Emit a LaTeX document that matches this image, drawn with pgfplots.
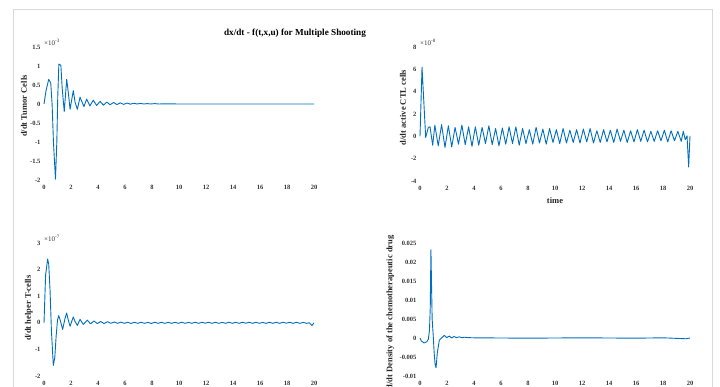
\documentclass[border=0pt]{standalone}
\usepackage{pgfplots}
\pgfplotsset{compat=1.18}
\usepackage{fontspec}
\setmainfont{Liberation Serif}
\definecolor{mblue}{RGB}{0,110,190}
\definecolor{framegray}{RGB}{217,217,217}
\pgfplotsset{
  myax/.style={
    scale only axis, width=270pt, height=133pt,
    xmin=0, xmax=20, xtick={0,2,...,20},
    axis line style={draw=none}, major tick length=0pt, tick style={draw=none},
    enlargelimits=false, clip=false,
    tick label style={font=\bfseries\fontsize{6.5}{7}\selectfont, text=black!80},
    /pgf/number format/assume math mode=true,
    xticklabel style={yshift=-1.5pt},
  },
  curve/.style={draw=mblue, line width=0.9pt, mark=none, line join=round},
  ylab/.style 2 args={every axis y label/.style={at={(axis description cs:#1,#2)}, rotate=90, anchor=center, font=\bfseries\fontsize{8.5}{9}\selectfont, text=black!85}},
}
\newcommand{\scalelab}[1]{\node[anchor=south west, inner sep=0pt, yshift=1pt, font=\fontsize{7}{8}\selectfont, text=black!80] at (rel axis cs:0,1) {×10\textsuperscript{#1}};}
\begin{document}
\begin{tikzpicture}[x=1pt,y=1pt]
\useasboundingbox (0pt,0pt) rectangle (720pt,387pt);
\draw[framegray, line width=0.8pt] (13pt,-20pt) -- (13pt,378pt) -- (712pt,378pt) -- (712pt,-20pt);
\node[font=\bfseries\fontsize{9.2}{10}\selectfont] at (295pt,354pt) {dx/dt - f(t,x,u) for Multiple Shooting};

% top-left
\begin{axis}[myax, at={(44pt,207pt)}, anchor=south west,
  ymin=-2, ymax=1.5, ytick={-2,-1.5,...,1.5},
  ylab={-0.074}{0.556}, ylabel={d/dt Tumor Cells}]
\addplot[curve] coordinates {
(0,0) (0.15,0.35) (0.35,0.65) (0.5,0.55) (0.6,0.0) (0.7,-1.0) (0.85,-1.98) (0.95,-1.0)
(1.02,0.2) (1.1,1.05) (1.25,1.02) (1.35,0.4) (1.5,-0.2) (1.68,0.65) (1.8,0.3) (1.93,-0.14)
(2.17,0.35) (2.3,0.05) (2.47,-0.14) (2.67,0.18) (2.96,-0.07) (3.16,0.13) (3.4,-0.05)
(3.65,0.1) (3.9,-0.04) (4.15,0.07) (4.4,-0.03) (4.65,0.05) (4.9,-0.02) (5.15,0.04)
(5.4,-0.015) (5.65,0.03) (5.9,-0.01) (6.15,0.025) (6.4,-0.005) (6.65,0.02) (6.9,0)
(7.15,0.015) (7.4,0) (7.65,0.01) (7.9,0) (8.2,0.01) (8.5,0) (9,0.005) (10,0) (12,0)
(14,0) (16,0) (18,0) (20,0)
};
\scalelab{-3}
\end{axis}

% top-right
\begin{axis}[myax, at={(420pt,206pt)}, anchor=south west, height=134pt,
  ymin=-4, ymax=8, ytick={-4,-2,...,8},
  ylab={-0.063}{0.548}, ylabel={d/dt active CTL cells},
  xlabel={time}, every axis x label/.style={at={(axis description cs:0.5,-0.149)}, anchor=center, font=\bfseries\fontsize{8.5}{9}\selectfont, text=black!85}]
\addplot[curve] coordinates {
(0,0) (0.15,6.2) (0.42,-0.1) (0.62,0.8) (0.74,0.85) (0.94,-0.8)
(1.1,1.0) (1.35,-0.85) (1.6,1.05) (1.85,-1.0) (2.1,0.95) (2.35,-0.95) (2.6,0.8) (2.85,-0.7)
(3.1,1.0) (3.35,-0.75) (3.6,0.85) (3.85,-0.9) (4.1,0.85) (4.35,-0.8) (4.6,0.8) (4.85,-0.65)
(5.1,0.95) (5.35,-0.75) (5.6,0.7) (5.85,-0.85) (6.1,0.75) (6.35,-0.7) (6.6,0.85) (6.85,-0.65)
(7.1,0.85) (7.35,-0.8) (7.6,0.7) (7.85,-0.65) (8.1,0.6) (8.35,-0.7) (8.6,0.8) (8.85,-0.6)
(9.1,0.65) (9.35,-0.7) (9.6,0.7) (9.85,-0.55) (10.1,0.6) (10.35,-0.65) (10.6,0.7) (10.85,-0.6)
(11.1,0.55) (11.35,-0.55) (11.6,0.6) (11.85,-0.6) (12.1,0.65) (12.35,-0.5) (12.6,0.7) (12.85,-0.6)
(13.1,0.5) (13.35,-0.55) (13.6,0.6) (13.85,-0.5) (14.1,0.55) (14.35,-0.55) (14.6,0.65) (14.85,-0.45)
(15.1,0.55) (15.35,-0.55) (15.6,0.5) (15.85,-0.5) (16.1,0.6) (16.35,-0.45) (16.6,0.55) (16.85,-0.5)
(17.1,0.45) (17.35,-0.45) (17.6,0.5) (17.85,-0.4) (18.1,0.55) (18.35,-0.5) (18.6,0.5) (18.85,-0.4)
(19.1,0.45) (19.35,-0.45) (19.5,0.45) (19.65,-0.3) (19.78,0.05) (19.9,-2.75) (20,0.05)
};
\scalelab{-8}
\end{axis}

% bottom-left
\begin{axis}[myax, at={(44pt,11pt)}, anchor=south west,
  ymin=-2, ymax=3, ytick={-2,-1,...,3},
  ylab={-0.056}{0.51}, ylabel={d/dt helper T-cells}]
\addplot[curve] coordinates {
(0,0) (0.12,1.8) (0.27,2.4) (0.35,2.2) (0.45,1.2) (0.55,-0.3) (0.69,-1.6) (0.8,-1.3)
(0.9,-0.5) (1.0,0.1) (1.09,0.27) (1.2,0.1) (1.38,-0.25) (1.55,0.15) (1.68,0.37) (1.8,0.1)
(1.93,-0.13) (2.17,0.22) (2.3,0.05) (2.47,-0.1) (2.67,0.13) (2.91,-0.06) (3.21,0.1)
(3.45,-0.04) (3.7,0.07) (3.95,-0.03) (4.2,0.05) (4.45,-0.03) (4.7,0.04) (4.95,-0.02)
(5.2,0.03) (5.45,-0.02) (5.7,0.025) (5.95,-0.02) (6.2,0.02) (6.45,-0.025) (6.7,0.02) (6.95,-0.02)
(7.2,0.02) (7.45,-0.02) (7.7,0.015) (7.95,-0.025) (8.2,0.02) (8.45,-0.02) (8.7,0.02) (8.95,-0.02)
(9.2,0.015) (9.45,-0.02) (9.7,0.02) (9.95,-0.02) (10.2,0.02) (10.45,-0.02) (10.7,0.015) (10.95,-0.02)
(11.2,0.02) (11.45,-0.02) (11.7,0.02) (11.95,-0.015) (12.2,0.02) (12.45,-0.02) (12.7,0.02) (12.95,-0.02)
(13.2,0.015) (13.45,-0.02) (13.7,0.02) (13.95,-0.02) (14.2,0.02) (14.45,-0.02) (14.7,0.02) (14.95,-0.015)
(15.2,0.02) (15.45,-0.02) (15.7,0.02) (15.95,-0.02) (16.2,0.015) (16.45,-0.02) (16.7,0.02) (16.95,-0.02)
(17.2,0.02) (17.45,-0.02) (17.7,0.02) (17.95,-0.015) (18.2,0.02) (18.45,-0.02) (18.7,0.02) (18.95,-0.02)
(19.2,0.015) (19.45,-0.02) (19.65,0.0) (19.85,-0.1) (20,0.0)
};
\scalelab{-7}
\end{axis}

% bottom-right
\begin{axis}[myax, at={(420pt,11pt)}, anchor=south west,
  ymin=-0.01, ymax=0.025, ytick={-0.01,-0.005,0,0.005,0.01,0.015,0.02,0.025},
  scaled y ticks=false, yticklabel style={/pgf/number format/fixed, /pgf/number format/precision=3},
  every axis y label/.style={at={(axis description cs:-0.11,1.083)}, rotate=90, anchor=east, font=\bfseries\fontsize{8.5}{9}\selectfont, text=black!85},
  ylabel={d/dt Density of the chemotherapeutic drug}]
\addplot[curve] coordinates {
(0,0) (0.1,-0.0008) (0.3,-0.0013) (0.5,-0.001) (0.62,-0.0003) (0.7,0.002) (0.76,0.008)
(0.81,0.0232) (0.85,0.015) (0.9,0.005) (0.99,0) (1.05,-0.004) (1.12,-0.007) (1.19,-0.0078)
(1.28,-0.004) (1.43,-0.0006) (1.6,0) (1.8,0.0007) (1.97,0.0001) (2.17,0.0005) (2.35,0)
(2.52,0.0004) (2.7,0.0001) (2.9,0.0003) (3.1,0.0001) (3.3,0.0002) (3.6,0.0001) (4,0.00005)
(6,0) (8,-0.00005) (10,0) (12,0.00005) (14,0) (16,-0.00005) (18,0.00005) (19.7,-0.0002) (20,0)
};
\end{axis}
\end{tikzpicture}
\end{document}
